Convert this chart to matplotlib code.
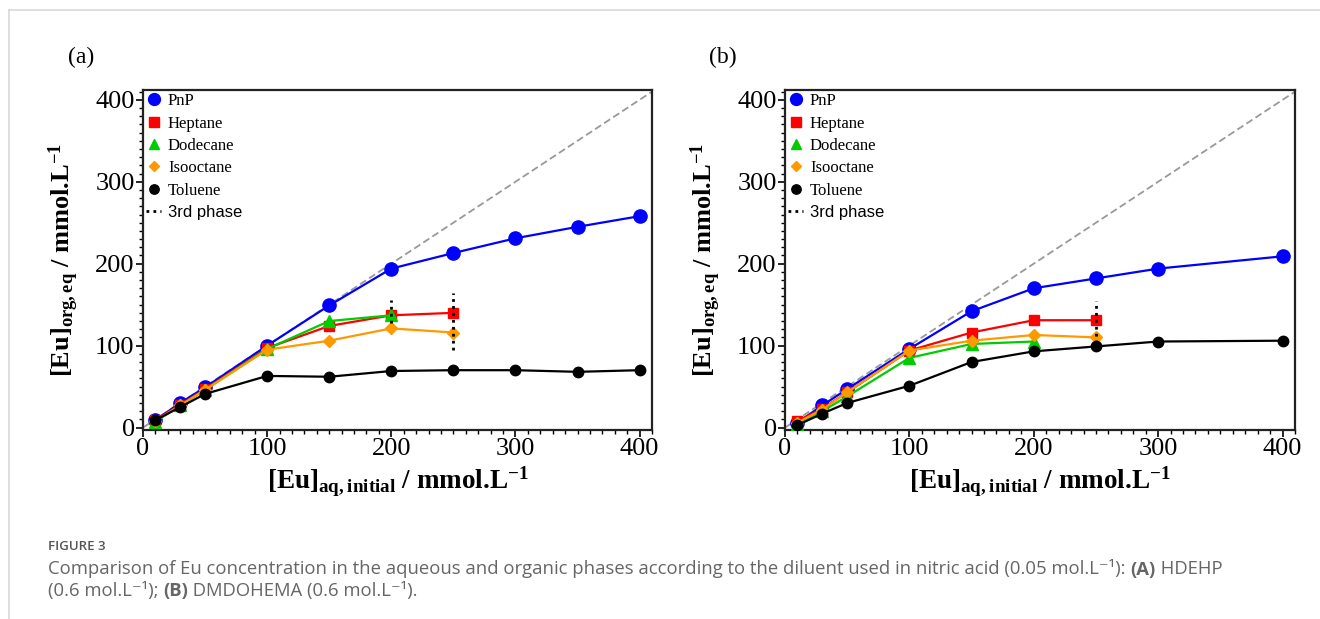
import numpy as np
import matplotlib
matplotlib.use("Agg")
import matplotlib.pyplot as plt
from matplotlib.lines import Line2D
from matplotlib.ticker import MultipleLocator

plt.rcParams['font.family'] = ['Liberation Serif', 'DejaVu Serif']
plt.rcParams['mathtext.default'] = 'regular'

# ---- data ----
x_full = [10, 30, 50, 100, 150, 200, 250, 300, 350, 400]
x_b_full = [10, 30, 50, 100, 150, 200, 250, 300, 400]
x_250 = [10, 30, 50, 100, 150, 200, 250]
x_200 = [10, 30, 50, 100, 150, 200]

# panel (a) HDEHP
a_pnp = [9, 30, 49, 100, 149, 194, 213, 231, 245, 258]
a_heptane = [9, 28, 47, 97, 124, 137, 140]
a_dodecane = [7, 27, 46, 96, 130, 137]
a_isooctane = [8, 27, 46, 95, 106, 121, 116]
a_toluene = [9, 25, 41, 63, 62, 69, 70, 70, 68, 70]
a_phase_x = [200, 250]
a_phase_lo = [127, 95]
a_phase_hi = [156, 164]

# panel (b) DMDOHEMA
b_pnp = [6, 27, 47, 96, 142, 170, 182, 194, 209]
b_heptane = [8, 23, 43, 94, 116, 131, 131]
b_dodecane = [4, 20, 38, 85, 102, 105]
b_isooctane = [6, 22, 43, 94, 106, 113, 110]
b_toluene = [3, 17, 30, 51, 80, 93, 99, 105, 106]
b_phase_x = [250]
b_phase_lo = [103]
b_phase_hi = [155]

series_names = ['PnP', 'Heptane', 'Dodecane', 'Isooctane', 'Toluene']
colors = ['#0000ff', '#ff0000', '#00cc00', '#ff9900', '#000000']
markers = ['o', 's', '^', 'D', 'o']
msizes = [9.5, 7.5, 8, 6, 7.5]

fig = plt.figure(figsize=(13.2, 6.19), dpi=100)

# light frame of the page
fig.add_artist(Line2D([9/1320, 1], [1 - 10/619, 1 - 10/619], transform=fig.transFigure,
                      color='#d9d9d9', lw=1.2))
fig.add_artist(Line2D([9/1320, 9/1320], [0, 1 - 10/619], transform=fig.transFigure,
                      color='#d9d9d9', lw=1.2))


def draw_panel(ax, xs, ys, phase_x, phase_lo, phase_hi, tag):
    ax.plot([0, 410], [0, 410], ls=(0, (4, 2)), color='#999999', lw=1.3, zorder=1)
    for i in range(len(ys)):
        ax.plot(xs[i], ys[i], color=colors[i], marker=markers[i], ms=msizes[i],
                lw=1.6, zorder=3)
    ax.vlines(phase_x, phase_lo, phase_hi, colors='black', linestyles=(0, (1, 1.5)),
              lw=2, zorder=6)
    ax.set_xlim(0, 410)
    ax.set_ylim(-3, 412)
    ax.xaxis.set_major_locator(MultipleLocator(100))
    ax.yaxis.set_major_locator(MultipleLocator(100))
    ax.xaxis.set_minor_locator(MultipleLocator(10))
    ax.yaxis.set_minor_locator(MultipleLocator(10))
    ax.tick_params(which='major', length=5, width=1.2, labelsize=19, pad=1)
    ax.tick_params(which='minor', length=3, width=1)
    for s in ax.spines.values():
        s.set_linewidth(1.6)
        s.set_color('#222222')
    ax.set_xlabel(r'[Eu]$_{aq,initial}$ / mmol.L$^{-1}$', fontsize=19.5,
                  fontweight='bold', labelpad=3)
    ax.set_ylabel(r'[Eu]$_{org,eq}$ / mmol.L$^{-1}$', fontsize=19,
                  fontweight='bold', labelpad=10)

    handles = [Line2D([], [], color=colors[i], marker=markers[i], ls='none',
                      ms=msizes[i] * 0.9) for i in range(5)]
    handles.append(Line2D([], [], color='black', ls=(0, (1, 1.5)), lw=2))
    leg = ax.legend(handles, series_names + ['3rd phase'], loc='upper left',
                    frameon=False, fontsize=12, handlelength=0.9,
                    handletextpad=0.4, labelspacing=0.38, borderaxespad=0.1,
                    borderpad=0.1)
    leg.get_texts()[5].set_family('Liberation Sans')
    ax.text(-0.122, 1.097, tag, transform=ax.transAxes, fontsize=17,
            ha='center', va='center')


ax1 = fig.add_axes([143/1320, 1 - 430/619, 509/1320, 340/619])
draw_panel(ax1,
           [x_full, x_250, x_200, x_250, x_full],
           [a_pnp, a_heptane, a_dodecane, a_isooctane, a_toluene],
           a_phase_x, a_phase_lo, a_phase_hi, '(a)')

ax2 = fig.add_axes([785/1320, 1 - 430/619, 510/1320, 340/619])
draw_panel(ax2,
           [x_b_full, x_250, x_200, x_250, x_b_full],
           [b_pnp, b_heptane, b_dodecane, b_isooctane, b_toluene],
           b_phase_x, b_phase_lo, b_phase_hi, '(b)')

# caption
cap = fig.add_axes([0, 0, 1, 1], zorder=-1)
cap.axis('off')
cap_font = ['Open Sans', 'DejaVu Sans']
grey = '#666666'
fs = 13.3
cap.text(48/1320, 1 - 546/619, 'FIGURE 3', family=cap_font, fontsize=9.5,
         fontweight='semibold', color='#555555', va='center')
t = cap.text(48/1320, 1 - 569/619,
             'Comparison of Eu concentration in the aqueous and organic phases according '
             'to the diluent used in nitric acid (0.05 mol.L\u207b\u00b9): ',
             family=cap_font, fontsize=fs, color=grey, va='center')
t = cap.annotate('(A)', xy=(1, 0), xycoords=t, va='bottom', family=cap_font,
                 fontsize=fs, fontweight='bold', color=grey)
cap.annotate(' HDEHP', xy=(1, 0), xycoords=t, va='bottom', family=cap_font,
             fontsize=fs, color=grey)
t = cap.text(48/1320, 1 - 591/619, '(0.6 mol.L\u207b\u00b9); ', family=cap_font,
             fontsize=fs, color=grey, va='center')
t = cap.annotate('(B)', xy=(1, 0), xycoords=t, va='bottom', family=cap_font,
                 fontsize=fs, fontweight='bold', color=grey)
cap.annotate(' DMDOHEMA (0.6 mol.L\u207b\u00b9).', xy=(1, 0), xycoords=t,
             va='bottom', family=cap_font, fontsize=fs, color=grey)

fig.savefig('out.png', dpi=100)
